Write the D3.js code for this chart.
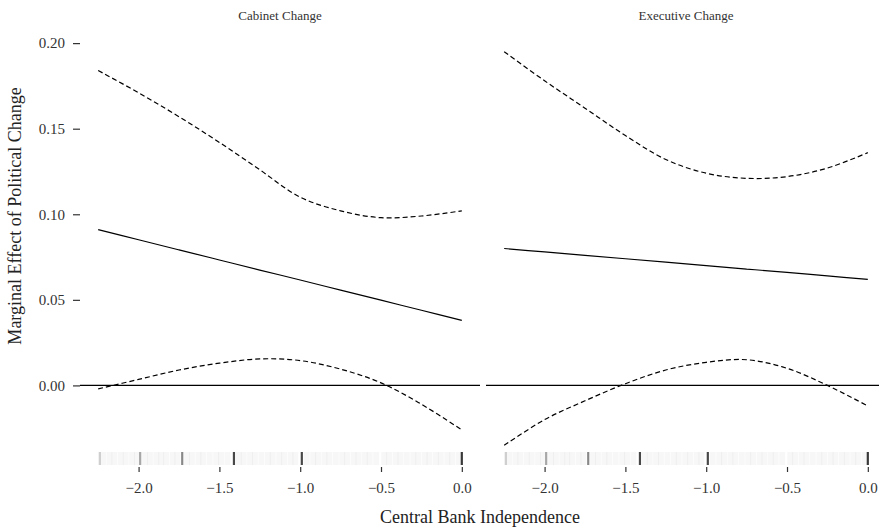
<!DOCTYPE html>
<html>

<head>
    <meta charset="utf-8">
    <style>
        body { margin: 0; background: #fff; }
        text { font-family: "Liberation Serif", "DejaVu Serif", serif; }
        .tick line { stroke: #333; }
        .tick text { fill: #333; font-size: 15px; }
    </style>
</head>

<body>
    <svg id="container" height="528" width="879"></svg>
</body>
<script src="https://d3js.org/d3.v7.min.js"></script>

<script>
    // values
    let panels = ["Cabinet Change", "Executive Change"];
    let cbi = [-2.25, -2.0, -1.75, -1.5, -1.25, -1.0, -0.75, -0.5, -0.25, 0.0];

    let cabinetEffect = [0.091, 0.0851, 0.0792, 0.0733, 0.0674, 0.0616, 0.0557, 0.0498, 0.0439, 0.038];
    let cabinetUpper = [0.184, 0.171, 0.157, 0.142, 0.126, 0.110, 0.102, 0.098, 0.099, 0.102];
    let cabinetLower = [-0.002, 0.0035, 0.009, 0.013, 0.0155, 0.0145, 0.0095, 0.0015, -0.011, -0.026];

    let executiveEffect = [0.080, 0.078, 0.076, 0.074, 0.072, 0.070, 0.068, 0.066, 0.064, 0.062];
    let executiveUpper = [0.195, 0.178, 0.162, 0.146, 0.132, 0.124, 0.121, 0.122, 0.127, 0.136];
    let executiveLower = [-0.035, -0.020, -0.009, 0.001, 0.009, 0.0135, 0.015, 0.010, 0.000, -0.012];

    // rug: observed CBI values and how many observations sit there
    let rugMain = [-2.24, -1.99, -1.73, -1.41, -0.99, 0.0];
    let rugMainCount = [2, 4, 6, 12, 12, 14];
    let rugFaint = [-2.22, -2.18, -2.15, -2.11, -2.08, -2.04, -2.01, -1.96, -1.93, -1.89, -1.86, -1.83,
        -1.79, -1.76, -1.70, -1.67, -1.63, -1.60, -1.56, -1.52, -1.49, -1.45, -1.38, -1.35, -1.31,
        -1.28, -1.24, -1.20, -1.17, -1.13, -1.10, -1.06, -1.03, -0.96, -0.92, -0.89, -0.85, -0.82,
        -0.78, -0.74, -0.71, -0.67, -0.64, -0.60, -0.57, -0.53, -0.48, -0.45, -0.41, -0.38, -0.34,
        -0.30, -0.27, -0.23, -0.20, -0.16, -0.13, -0.09, -0.06, -0.02];

    let xTicks = [-2.0, -1.5, -1.0, -0.5, 0.0];
    let yTicks = [0.00, 0.05, 0.10, 0.15, 0.20];

    let series = [
        {effect: cabinetEffect, upper: cabinetUpper, lower: cabinetLower},
        {effect: executiveEffect, upper: executiveUpper, lower: executiveLower}
    ];

    let svg = d3.select("#container");
    let panelLefts = [80, 486];
    let panelWidth = 400;
    let panelTop = 32, panelBottom = 465;

    let yScale = d3.scaleLinear().domain([-0.0465, 0.2065]).range([panelBottom, panelTop]);

    panels.forEach((name, i) => {
        let left = panelLefts[i];
        let xScale = d3.scaleLinear().domain([-2.3625, 0.1125]).range([left, left + panelWidth]);
        let g = svg.append("g").attr("class", "panel");
        let s = series[i];

        // strip title
        g.append("text")
            .attr("x", left + panelWidth / 2)
            .attr("y", 20)
            .attr("text-anchor", "middle")
            .attr("font-size", "13px")
            .attr("fill", "#333")
            .text(name);

        // rug, faint band then heavier marks
        g.append("g").selectAll("line")
            .data(rugFaint)
            .enter()
            .append("line")
                .attr("x1", (d) => xScale(d))
                .attr("x2", (d) => xScale(d))
                .attr("y1", 452)
                .attr("y2", panelBottom)
                .attr("stroke", "#000")
                .attr("stroke-opacity", 0.03)
                .attr("stroke-width", 6);
        g.append("g").selectAll("line")
            .data(rugMain)
            .enter()
            .append("line")
                .attr("x1", (d) => xScale(d))
                .attr("x2", (d) => xScale(d))
                .attr("y1", 452)
                .attr("y2", panelBottom)
                .attr("stroke", "#000")
                .attr("stroke-opacity", (d, j) => 1 - Math.pow(0.9, rugMainCount[j]))
                .attr("stroke-width", 2.2);

        // zero line
        g.append("line")
            .attr("x1", left)
            .attr("x2", left + panelWidth)
            .attr("y1", yScale(0))
            .attr("y2", yScale(0))
            .attr("stroke", "#000")
            .attr("stroke-width", 1.1);

        let line = (vals) => d3.line()
            .x((d, j) => xScale(cbi[j]))
            .y((d) => yScale(d))
            .curve(d3.curveCatmullRom)(vals);

        g.append("path").attr("d", line(s.effect))
            .attr("fill", "none").attr("stroke", "#000").attr("stroke-width", 1.2);
        [s.upper, s.lower].forEach((vals) => {
            g.append("path").attr("d", line(vals))
                .attr("fill", "none").attr("stroke", "#000").attr("stroke-width", 1.2)
                .attr("stroke-dasharray", "5,3");
        });

        // x axis
        let xAxis = g.append("g")
            .attr("transform", `translate(0, ${panelBottom + 2})`)
            .call(d3.axisBottom(xScale)
                .tickValues(xTicks)
                .tickSize(5)
                .tickPadding(10)
                .tickFormat(d3.format(".1f")));
        xAxis.select(".domain").remove();
        xAxis.selectAll(".tick line").attr("stroke-width", 1.2);
    });

    // y axis on the left panel only
    let yAxis = svg.append("g")
        .attr("transform", `translate(${panelLefts[0]}, 0)`)
        .call(d3.axisLeft(yScale)
            .tickValues(yTicks)
            .tickSize(7)
            .tickPadding(8)
            .tickFormat(d3.format(".2f")));
    yAxis.select(".domain").remove();
    yAxis.selectAll(".tick line").attr("stroke-width", 1.2);

    // axis titles
    svg.append("text")
        .attr("x", 480)
        .attr("y", 523)
        .attr("text-anchor", "middle")
        .attr("font-size", "18px")
        .attr("fill", "#222")
        .text("Central Bank Independence");
    svg.append("text")
        .attr("transform", "translate(21, 216) rotate(-90)")
        .attr("text-anchor", "middle")
        .attr("font-size", "18px")
        .attr("fill", "#222")
        .text("Marginal Effect of Political Change");
</script>

</html>
